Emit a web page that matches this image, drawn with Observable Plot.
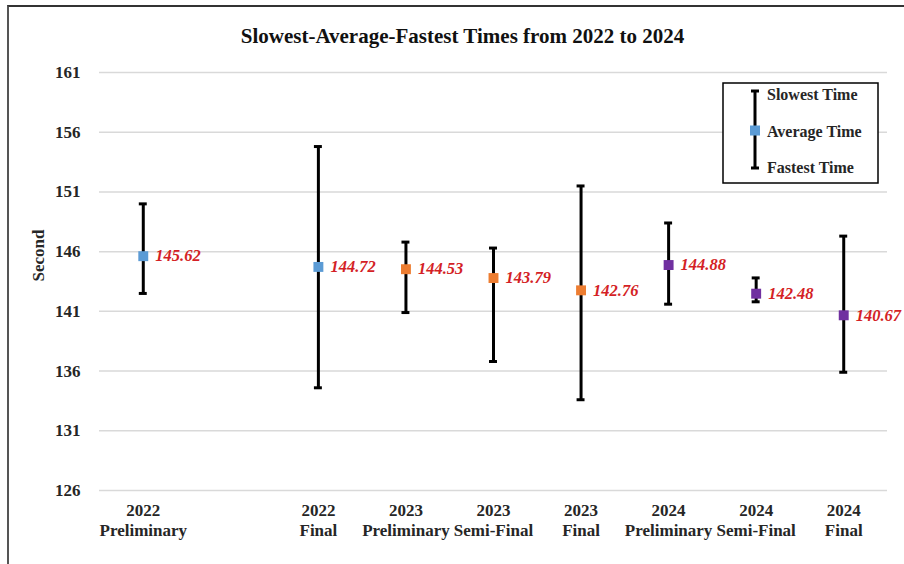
<!DOCTYPE html>
<html><head><meta charset="utf-8">
<script src="https://cdn.jsdelivr.net/npm/d3@7"></script>
<script src="https://cdn.jsdelivr.net/npm/@observablehq/plot@0.6"></script>
<style>
body{margin:0;background:#fff;}
#wrap{position:relative;width:904px;height:564px;overflow:hidden;background:#fff;}
#border{position:absolute;left:7px;top:5px;width:1000px;height:1000px;border-left:2px solid #555;border-top:2px solid #333;}
#chart{position:absolute;left:0;top:0;}
#chart svg, #chart svg text{font-family:'Liberation Serif','Times New Roman',serif !important;}
</style></head><body>
<div id="wrap"><div id="border"></div><div id="chart"></div></div>
<script>
// slots on the x axis (one empty slot after 2022 Preliminary)
const slots = ["2022 Preliminary", "(gap)", "2022 Final", "2023 Preliminary", "2023 Semi-Final", "2023 Final", "2024 Preliminary", "2024 Semi-Final", "2024 Final"];
const slotLabels = ["2022\nPreliminary", "", "2022\nFinal", "2023\nPreliminary", "2023\nSemi-Final", "2023\nFinal", "2024\nPreliminary", "2024\nSemi-Final", "2024\nFinal"];
const events = ["2022 Preliminary", "2022 Final", "2023 Preliminary", "2023 Semi-Final", "2023 Final", "2024 Preliminary", "2024 Semi-Final", "2024 Final"];
const slowest = [150.0, 154.8, 146.8, 146.3, 151.5, 148.4, 143.8, 147.3];
const average = [145.62, 144.72, 144.53, 143.79, 142.76, 144.88, 142.48, 140.67];
const fastest = [142.5, 134.6, 140.9, 136.8, 133.6, 141.6, 141.8, 135.9];
const years = ["2022", "2023", "2024"];
const yearColors = ["#5b9bd5", "#ed7d31", "#7030a0"];
const yTicks = [126, 131, 136, 141, 146, 151, 156, 161];
const title = "Slowest-Average-Fastest Times from 2022 to 2024";
const legendLabels = ["Slowest Time", "Average Time", "Fastest Time"];

const serif = "'Liberation Serif','Times New Roman',serif";
const rows = events.map((e, i) => ({event: e, year: e.slice(0, 4), slowest: slowest[i], average: average[i], fastest: fastest[i]}));
const labelMap = new Map(slots.map((s, i) => [s, slotLabels[i]]));

const chart = Plot.plot({
  width: 904, height: 564,
  marginLeft: 99, marginRight: 17, marginTop: 72, marginBottom: 74,
  style: `font-family:${serif};background:transparent;overflow:visible;`,
  x: {domain: slots, type: "band", padding: 0, round: false},
  y: {domain: [126, 161]},
  color: {domain: years, range: yearColors},
  marks: [
    Plot.gridY(yTicks, {stroke: "#d9d9d9", strokeOpacity: 1, strokeWidth: 1.5}),
    Plot.axisY(yTicks, {tickSize: 0, tickPadding: 19, fontSize: 17, fontWeight: "bold", fontFamily: serif, fill: "#262626", label: null}),
    Plot.axisX({tickSize: 0, tickPadding: 12, fontSize: 17, fontWeight: "bold", fontFamily: serif, fill: "#262626", lineHeight: 1.14, label: null, tickFormat: d => labelMap.get(d)}),
    Plot.ruleX(rows, {x: "event", y1: "fastest", y2: "slowest", stroke: "black", strokeWidth: 3}),
    Plot.tickY(rows, {x: "event", y: "slowest", stroke: "black", strokeWidth: 3, insetLeft: 39.8, insetRight: 39.8}),
    Plot.tickY(rows, {x: "event", y: "fastest", stroke: "black", strokeWidth: 3, insetLeft: 39.8, insetRight: 39.8}),
    Plot.dot(rows, {x: "event", y: "average", fill: "year", symbol: "square", r: 5.6}),
    Plot.text(rows, {x: "event", y: "average", text: d => d.average.toFixed(2), dx: 12, textAnchor: "start", fill: "#d41f26", fontSize: 16.5, fontWeight: "bold", fontStyle: "italic", fontFamily: serif}),
    Plot.text([title], {frameAnchor: "top", dy: -44, dx: -31, fontSize: 21, fontWeight: "bold", fontFamily: serif, fill: "#111"}),
    Plot.text(["Second"], {frameAnchor: "left", dx: -61, rotate: -90, fontSize: 17, fontWeight: "bold", fontFamily: serif, fill: "#262626"})
  ]
});

// legend box
const svg = d3.select(chart);
const lg = svg.append("g").attr("font-family", serif).attr("text-anchor", "start");
lg.append("rect").attr("x", 723).attr("y", 83).attr("width", 155).attr("height", 100)
  .attr("fill", "white").attr("stroke", "black").attr("stroke-width", 1.5);
lg.append("line").attr("x1", 755).attr("x2", 755).attr("y1", 91).attr("y2", 168).attr("stroke", "black").attr("stroke-width", 3);
[91, 168].forEach(y => lg.append("line").attr("x1", 751).attr("x2", 759).attr("y1", y).attr("y2", y).attr("stroke", "black").attr("stroke-width", 3));
lg.append("rect").attr("x", 750).attr("y", 125.5).attr("width", 10).attr("height", 10).attr("fill", yearColors[0]);
[94, 131, 167].forEach((y, i) => lg.append("text").attr("x", 767).attr("y", y).attr("dy", "0.35em")
  .attr("text-anchor", "start").style("font-family", serif)
  .attr("font-size", 16).attr("font-weight", "bold").attr("fill", "#262626").text(legendLabels[i]));

document.getElementById("chart").appendChild(chart);
</script>
</body></html>
